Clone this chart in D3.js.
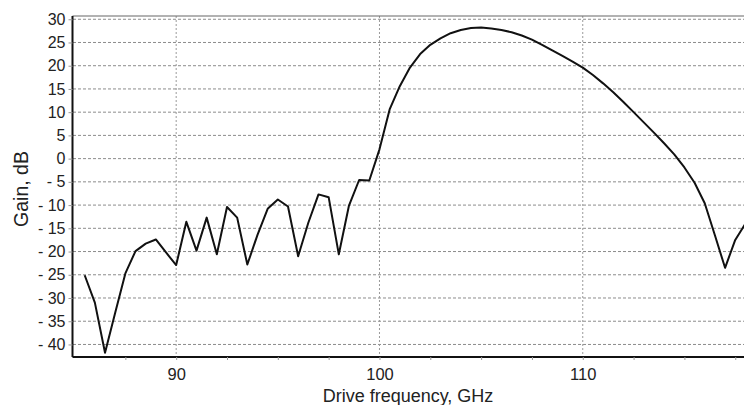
<!DOCTYPE html>
<html>
    <head>
        <script src="https://d3js.org/d3.v7.min.js"></script>
        <style>
            body { margin: 0; background: #fff; }
            svg { display: block; font-family: "Liberation Sans", Arial, sans-serif; }
        </style>
    </head>
    <body>
        <div class="v1"></div>
        <script>
            // Drive frequency (GHz) and gain (dB)
            let freq = [85.5, 86, 86.5, 87, 87.5, 88, 88.5, 89, 89.5, 90,
                        90.5, 91, 91.5, 92, 92.5, 93, 93.5, 94, 94.5, 95,
                        95.5, 96, 96.5, 97, 97.5, 98, 98.5, 99, 99.5, 100,
                        100.5, 101, 101.5, 102, 102.5, 103, 103.5, 104, 104.5, 105,
                        105.5, 106, 106.5, 107, 107.5, 108, 108.5, 109, 109.5, 110,
                        110.5, 111, 111.5, 112, 112.5, 113, 113.5, 114, 114.5, 115,
                        115.5, 116, 116.5, 117, 117.5, 118];
            let gain = [-25.1, -31, -41.8, -33.2, -24.7, -19.9, -18.3, -17.4, -20.2, -22.9,
                        -13.6, -19.8, -12.7, -20.6, -10.4, -12.7, -22.8, -16.4, -10.8, -8.8,
                        -10.3, -21.0, -13.8, -7.7, -8.3, -20.6, -10.1, -4.6, -4.7, 2.0,
                        10.6, 15.6, 19.6, 22.5, 24.5, 25.9, 27.0, 27.7, 28.1, 28.2,
                        28.0, 27.7, 27.2, 26.5, 25.6, 24.5, 23.3, 22.1, 20.9, 19.6,
                        18.0, 16.2, 14.3, 12.2, 10.0, 7.8, 5.6, 3.3, 0.9, -1.9,
                        -5.2, -9.6, -16.5, -23.5, -17.5, -14.0];
            let yTicks = [30, 25, 20, 15, 10, 5, 0, -5, -10, -15, -20, -25, -30, -35, -40];
            let xLabelTicks = [90, 100, 110];
            let xMinorTicks = [87.5, 90, 92.5, 95, 97.5, 100, 102.5, 105, 107.5, 110, 112.5, 115, 117.5];

            let svg = d3.select("div.v1").append("svg")
                .attr("width", 744)
                .attr("height", 405);

            let x = d3.scaleLinear().domain([84.9, 118]).range([72.5, 745.4]);
            let y = d3.scaleLinear().domain([-42.7, 30.7]).range([357, 16]);

            svg.append("clipPath").attr("id", "plot")
                .append("rect").attr("x", 72.5).attr("y", 16).attr("width", 680).attr("height", 341);

            // Horizontal grid
            svg.append("g").selectAll("line").data(yTicks).join("line")
                .attr("x1", 73).attr("x2", 744)
                .attr("y1", d => y(d)).attr("y2", d => y(d))
                .attr("stroke", "#8c8c8c")
                .attr("stroke-width", 1)
                .attr("stroke-dasharray", "3,2");

            // Vertical grid
            svg.append("g").selectAll("line").data(xLabelTicks).join("line")
                .attr("x1", d => x(d)).attr("x2", d => x(d))
                .attr("y1", 16).attr("y2", 357)
                .attr("stroke", "#9a9a9a")
                .attr("stroke-width", 1)
                .attr("stroke-dasharray", "2,2");

            // Top border
            svg.append("line")
                .attr("x1", 72.5).attr("x2", 744).attr("y1", 16).attr("y2", 16)
                .attr("stroke", "#666").attr("stroke-width", 1.2);

            // Y axis
            let yAxis = svg.append("g")
                .attr("transform", "translate(72.5,0)")
                .call(d3.axisLeft(y).tickValues(yTicks).tickSize(4).tickPadding(3)
                    .tickFormat(d => d < 0 ? "- " + Math.abs(d) : d));
            yAxis.select(".domain").attr("stroke", "#111").attr("stroke-width", 2)
                .attr("d", "M0,16V357");
            yAxis.selectAll(".tick line").attr("stroke", "#999");
            yAxis.selectAll("text").attr("font-size", 16).attr("fill", "#222")
                .attr("font-family", "Liberation Sans, Arial, sans-serif");

            // X axis
            let xAxis = svg.append("g")
                .attr("transform", "translate(0,357)")
                .call(d3.axisBottom(x).tickValues(xMinorTicks).tickSize(3).tickPadding(8)
                    .tickFormat(d => xLabelTicks.includes(d) ? d : ""));
            xAxis.select(".domain").attr("stroke", "#111").attr("stroke-width", 2)
                .attr("d", "M72.5,0H744");
            xAxis.selectAll(".tick line").attr("stroke", "#999");
            xAxis.selectAll("text").attr("font-size", 16.5).attr("fill", "#222")
                .attr("font-family", "Liberation Sans, Arial, sans-serif");

            // Gain curve
            let line = d3.line()
                .x((d, i) => x(freq[i]))
                .y(d => y(d));
            svg.append("path")
                .datum(gain)
                .attr("clip-path", "url(#plot)")
                .attr("d", line)
                .attr("fill", "none")
                .attr("stroke", "#111")
                .attr("stroke-width", 2)
                .attr("stroke-linejoin", "round");

            // Axis titles
            svg.append("text")
                .attr("x", 408).attr("y", 402)
                .attr("text-anchor", "middle")
                .attr("font-size", 18).attr("fill", "#222")
                .text("Drive frequency, GHz");
            svg.append("text")
                .attr("transform", "translate(28,189) rotate(-90)")
                .attr("text-anchor", "middle")
                .attr("font-size", 19.5).attr("fill", "#222")
                .text("Gain, dB");
        </script>
    </body>
</html>
